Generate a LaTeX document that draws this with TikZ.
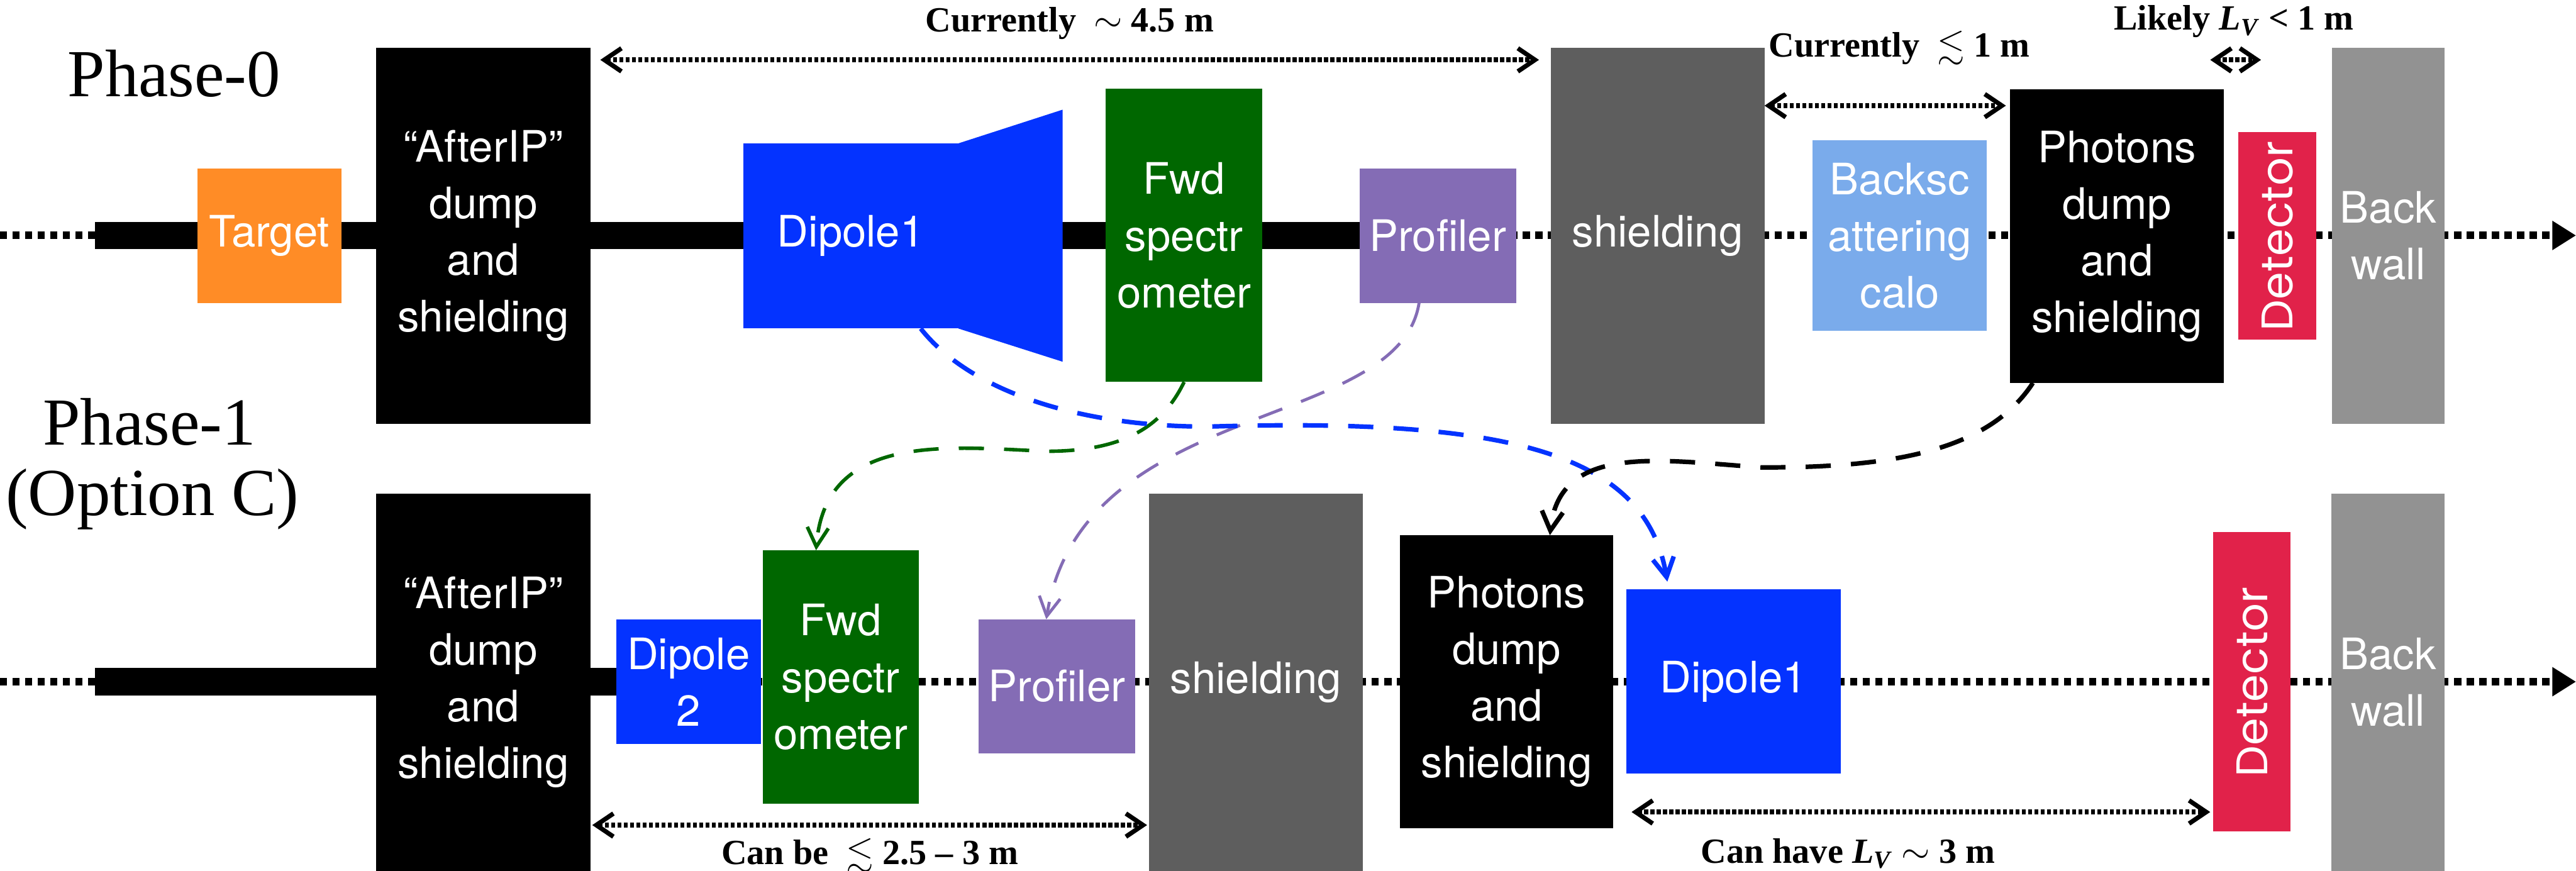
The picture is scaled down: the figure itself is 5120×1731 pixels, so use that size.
\documentclass[tikz,border=0pt]{standalone}
\usepackage{amssymb}
\usepackage{fontspec}
\setmainfont{Liberation Serif}
\newfontfamily\boxfont{TeX Gyre Heros}
\newfontfamily\detfont{Poppins}
\usetikzlibrary{arrows.meta,calc}
\definecolor{tgtorange}{RGB}{255,140,38}
\definecolor{dipblue}{RGB}{4,51,255}
\definecolor{fwdgreen}{RGB}{0,103,0}
\definecolor{profpurple}{RGB}{132,108,181}
\definecolor{shdgray}{RGB}{94,94,94}
\definecolor{bwgray}{RGB}{146,146,146}
\definecolor{bsclight}{RGB}{122,171,235}
\definecolor{detred}{RGB}{225,34,74}
\tikzset{
  blk/.style={inner sep=0pt, outer sep=0pt, text=white, align=center,
    font=\boxfont\fontsize{24.5}{32}\selectfont},
  sz/.style 2 args={minimum width=#1*0.1mm, minimum height=#2*0.1mm},
  beamline/.style={line width=1.5mm, dash pattern=on 1.4mm off 1.1mm,
    -{Triangle[length=4.7mm,width=5.5mm]}},
  dim/.style={line width=1mm, dash pattern=on 0.8mm off 0.45mm,
    {Straight Barb[length=3.4mm,width=4.6mm,line width=0.9mm]}-{Straight Barb[length=3.4mm,width=4.6mm,line width=0.9mm]}},
  dimlabel/.style={inner sep=0pt, anchor=base, font=\bfseries\fontsize{20}{22}\selectfont},
  phase/.style={inner sep=0pt, anchor=base, font=\fontsize{38}{40}\selectfont},
  curved/.style={line width=#1, dash pattern=on 5mm off 4mm,
    -{Straight Barb[length=3.8mm,width=4.2mm,line width=#1]}},
}
\begin{document}
\begin{tikzpicture}[x=0.01cm,y=-0.01cm]
\useasboundingbox (0,0) rectangle (5120,1731);

% beam lines
\coordinate (bA0) at (0,468);
\coordinate (bA1) at (5120,468);
\coordinate (bB0) at (0,1355);
\coordinate (bB1) at (5120,1355);
\draw[beamline] (bA0) -- (bA1);
\draw[beamline] (bB0) -- (bB1);
\fill (189,441) rectangle (2702,495);
\fill (189,1328) rectangle (1225,1383);

% Phase-0 row
\node[blk, fill=tgtorange, sz={287}{267}] (tgt) at (535.5,468.5) {Target};
\node[blk, fill=black, sz={425}{747}] (aftA) at (960.5,468.5) {“AfterIP”\\dump\\and\\shielding};
\node[blk, fill=dipblue, sz={428}{368}] (dipA) at (1691,469) {Dipole1};
\fill[dipblue] (dipA.north east) -- (2112,218) -- (2112,719) -- (dipA.south east) -- cycle;
\node[blk, fill=fwdgreen, sz={311}{582}] (fwdA) at (2353.5,468) {Fwd\\spectr\\ometer};
\node[blk, fill=profpurple, sz={311}{267}] (profA) at (2857.5,468.5) {Profiler};
\node[blk, fill=shdgray, sz={425}{747}] (shdA) at (3294.5,468.5) {shielding};
\node[blk, fill=bsclight, sz={346}{379}] (bsc) at (3776,468.5) {Backsc\\attering\\calo};
\node[blk, fill=black, sz={425}{583}] (phoA) at (4207.5,469.5) {Photons\\dump\\and\\shielding};
\node[blk, fill=detred, sz={155}{412}, font=\detfont\fontsize{25}{28}\selectfont] (detA) at (4526.5,469) {\rotatebox{90}{Detector}};
\node[blk, fill=bwgray, sz={224}{747}] (bwA) at (4747,468.5) {Back\\wall};

% Phase-1 row
\node[blk, fill=black, sz={425}{749}] (aftB) at (960.5,1356.5) {“AfterIP”\\dump\\and\\shielding};
\node[blk, fill=dipblue, sz={287}{248}] (dipTwo) at (1368.5,1355) {Dipole\\2};
\node[blk, fill=fwdgreen, sz={310}{503}] (fwdB) at (1671,1345.5) {Fwd\\spectr\\ometer};
\node[blk, fill=profpurple, sz={311}{266}] (profB) at (2100.5,1364) {Profiler};
\node[blk, fill=shdgray, sz={424}{749}] (shdB) at (2496,1356.5) {shielding};
\node[blk, fill=black, sz={423}{582}] (phoB) at (2994.5,1355) {Photons\\dump\\and\\shielding};
\node[blk, fill=dipblue, sz={425}{367}] (dipB) at (3445.5,1354.5) {Dipole1};
\node[blk, fill=detred, sz={154}{594}, font=\detfont\fontsize{25}{28}\selectfont] (detB) at (4476,1355) {\rotatebox{90}{Detector}};
\node[blk, fill=bwgray, sz={225}{749}] (bwB) at (4746.5,1356.5) {Back\\wall};

% phase labels
\node[phase] (ph0) at (346,192) {Phase-0};
\node[phase] (ph1) at (297,884) {Phase-1};
\node[phase] (ph1b) at (303,1024) {(Option C)};

% dimension arrows
\coordinate (yA) at (0,119);
\coordinate (yB) at (0,210);
\coordinate (yC) at (0,1640);
\coordinate (yD) at (0,1614);
\coordinate (lvA) at (4393,119);
\coordinate (lvB) at (4494,119);
\draw[dim, shorten <=2mm, shorten >=2.3mm] (aftA.east |- yA) -- (shdA.west |- yA);
\draw[dim, shorten >=0.8mm] (shdA.east |- yB) -- (phoA.west |- yB);
\draw[dim] (lvA) -- (lvB);
\draw[dim, shorten <=0.4mm, shorten >=0.4mm] (aftB.east |- yC) -- (shdB.west |- yC);
\draw[dim, shorten <=1mm, shorten >=0.6mm] (dipB.west |- yD) -- (detB.west |- yD);

\node[dimlabel] (lab1) at (2126,63) {Currently\ \ $\sim$ 4.5 m};
\node[dimlabel] (lab2) at (3775,113) {Currently\ \ $\lesssim$ 1 m};
\node[dimlabel] (lab3) at (4440,60) {Likely \textit{L}\textsubscript{\textit{V}} < 1 m};
\node[dimlabel] (lab4) at (1729,1718) {Can be\ \ $\lesssim$ 2.5 -- 3 m};
\node[dimlabel] (lab5) at (3673,1715) {Can have \textit{L}\textsubscript{\textit{V}} $\sim$ 3 m};

% curved dashed arrows
\draw[curved=0.7mm, fwdgreen] (fwdA.south) .. controls (2310,850) and (2230,897) .. (2080,897)
   .. controls (1880,888) and (1640,860) .. ($(fwdB.north)+(-49,0)$);
\draw[curved=0.6mm, profpurple] ($(profA.south)+(-37,0)$) .. controls (2780,860) and (2150,790) .. ($(profB.north)+(-21,0)$);
\draw[curved=0.9mm, dipblue, shorten >=1.5mm] ($(dipA.south)+(139,0)$) .. controls (1930,780) and (2150,848) .. (2400,848)
   .. controls (3000,830) and (3270,900) .. ($(dipB.north)+(-129,0)$);
\draw[curved=0.9mm, black] ($(phoA.south)+(-167,0)$) .. controls (3950,900) and (3750,930) .. (3500,929)
   .. controls (3300,915) and (3100,880) .. ($(phoB.north)+(86,0)$);
\end{tikzpicture}
\end{document}
